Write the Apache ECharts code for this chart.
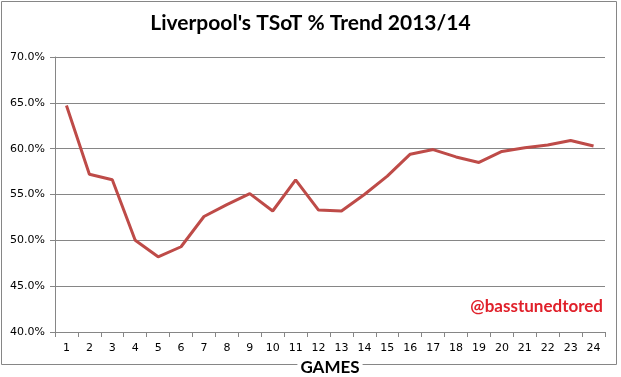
<!DOCTYPE html>
<html>
<head>
<meta charset="utf-8">
<script src="https://cdn.jsdelivr.net/npm/echarts@6/dist/echarts.min.js"></script>
<style>
  html, body { margin: 0; padding: 0; background: #fff; }
  #ec { width: 621px; height: 377px; }
</style>
</head>
<body>
<div id="ec"></div>
<script>
var games = ["1","2","3","4","5","6","7","8","9","10","11","12","13","14","15","16","17","18","19","20","21","22","23","24"];
var tsotPct = [64.7, 57.2, 56.6, 50.0, 48.2, 49.3, 52.6, 53.9, 55.1, 53.2, 56.6, 53.3, 53.2, 55.0, 57.0, 59.4, 59.9, 59.1, 58.5, 59.7, 60.1, 60.4, 60.9, 60.3];
var yTicks = [40, 45, 50, 55, 60, 65, 70];

var myChart = echarts.init(document.getElementById("ec"));
myChart.setOption({
  animation: false,
  title: {
    text: "Liverpool's TSoT % Trend 2013/14",
    left: "center",
    top: 8,
    textStyle: { fontFamily: "Lato", fontWeight: "bold", fontSize: 21, color: "#000" },
  },
  grid: { left: 55, right: 16, top: 57, bottom: 45, outerBoundsMode: "none", containLabel: false },
  xAxis: {
    type: "category",
    data: games,
    boundaryGap: true,
    axisLine: { lineStyle: { color: "#868686", width: 1 } },
    axisTick: { show: true, alignWithLabel: false, length: 5, inside: false, lineStyle: { color: "#868686" } },
    axisLabel: { color: "#000", fontFamily: "DejaVu Sans", fontSize: 11, margin: 11, interval: 0 },
    name: "GAMES",
    nameLocation: "middle",
    nameGap: 27,
    nameTextStyle: {
      fontFamily: "Lato", fontWeight: "bold", fontSize: 17, color: "#000",
      backgroundColor: "#fff", padding: [0, 3],
    },
  },
  yAxis: {
    type: "value",
    min: yTicks[0],
    max: yTicks[yTicks.length - 1],
    interval: 5,
    axisLine: { show: true, lineStyle: { color: "#868686", width: 1 } },
    axisTick: { show: true, length: 5, lineStyle: { color: "#868686" } },
    axisLabel: {
      color: "#000", fontFamily: "DejaVu Sans", fontSize: 11, margin: 10,
      formatter: function (v) { return v.toFixed(1) + "%"; },
    },
    splitLine: { lineStyle: { color: "#868686", width: 1 } },
  },
  graphic: [
    {
      type: "rect",
      z: -1,
      shape: { x: 1.5, y: 1.5, width: 615, height: 363 },
      style: { fill: null, stroke: "#868686", lineWidth: 1 },
    },
    {
      type: "text",
      right: 18,
      top: 298,
      style: {
        text: "@basstunedtored",
        fill: "#E0202A",
        font: "bold 17px Lato",
      },
    },
  ],
  series: [
    {
      name: "TSoT %",
      type: "line",
      data: tsotPct,
      symbol: "none",
      lineStyle: { color: "#BE4B48", width: 3 },
    },
  ],
});
</script>
</body>
</html>
